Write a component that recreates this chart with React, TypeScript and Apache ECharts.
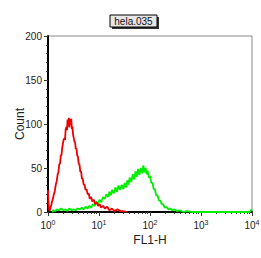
import React, { useEffect, useRef } from "react";
import * as echarts from "echarts";

const title = "hela.035";
const xAxisName = "FL1-H";
const yAxisName = "Count";
const yTicks = [0, 50, 100, 150, 200];
const xDecades = [1, 10, 100, 1000, 10000];
const xMinorTicks = [
  2, 3, 4, 5, 6, 7, 8, 9,
  20, 30, 40, 50, 60, 70, 80, 90,
  200, 300, 400, 500, 600, 700, 800, 900,
  2000, 3000, 4000, 5000, 6000, 7000, 8000, 9000,
];

// Red (control) histogram: [FL1-H, count]
const redSeries: [number, number][] = [
  [1, 25], [1.02, 12], [1.05, 3], [1.08, 1], [1.12, 5], [1.16, 8], [1.2, 12], [1.25, 15],
  [1.3, 20], [1.36, 24], [1.42, 31], [1.48, 35], [1.55, 43], [1.6, 45], [1.66, 54], [1.72, 55],
  [1.78, 64], [1.84, 65], [1.9, 73], [1.96, 73], [2.02, 82], [2.1, 84], [2.16, 82], [2.22, 94],
  [2.3, 97], [2.36, 93], [2.42, 105], [2.5, 98], [2.56, 107], [2.62, 96], [2.7, 106], [2.78, 99],
  [2.86, 106], [2.94, 94], [3.02, 97], [3.1, 88], [3.2, 88], [3.3, 80], [3.4, 79], [3.5, 72],
  [3.62, 72], [3.74, 64], [3.86, 63], [4.0, 55], [4.14, 54], [4.3, 46], [4.46, 46], [4.62, 38],
  [4.8, 38], [5.0, 31], [5.2, 31], [5.45, 25], [5.7, 26], [6.0, 20], [6.3, 21], [6.6, 15],
  [7.0, 17], [7.4, 12], [7.9, 14], [8.4, 9], [9.0, 11], [9.6, 7], [10.3, 9], [11, 5],
  [12, 7], [13, 4], [14.5, 6], [16, 2], [18, 4], [20, 1], [23, 3], [26, 1], [30, 1], [35, 0],
];

// Green (stained) histogram: [FL1-H, count]
const greenSeries: [number, number][] = [
  [1.2, 0], [1.3, 2], [1.4, 1], [1.5, 3], [1.65, 2], [1.8, 4], [2, 2], [2.2, 3],
  [2.4, 1], [2.6, 4], [2.9, 2], [3.2, 3], [3.5, 2], [3.8, 4], [4.2, 3], [4.6, 5],
  [5, 3], [5.5, 6], [6, 4], [6.5, 7], [7, 5], [7.6, 9], [8.2, 7], [8.8, 12],
  [9.5, 9], [10.2, 14], [11, 11], [12, 17], [13, 15], [14, 20], [15, 17], [16, 23],
  [17, 19], [18, 25], [19.5, 21], [21, 28], [22.5, 23], [24, 30], [26, 25], [28, 31],
  [30, 26], [32, 33], [34, 28], [36, 36], [38, 31], [40, 39], [43, 34], [46, 43],
  [49, 37], [52, 46], [55, 40], [58, 49], [62, 42], [66, 50], [70, 44], [74, 53],
  [78, 45], [82, 50], [86, 43], [90, 47], [95, 39], [100, 41], [106, 33], [112, 33],
  [118, 26], [125, 26], [132, 19], [140, 19], [150, 13], [160, 13], [170, 9], [180, 9],
  [195, 5], [210, 6], [230, 3], [250, 4], [275, 2], [300, 3], [340, 1], [380, 2],
  [450, 0], [520, 1], [700, 0], [1000, 0], [2000, 0], [5000, 0], [9000, 0], [9500, 2], [10000, 3],
];

const supDigits: Record<string, number> = { "1": 0, "10": 1, "100": 2, "1000": 3, "10000": 4 };

export default function App() {
  const ref = useRef<HTMLDivElement>(null);
  useEffect(() => {
    if (!ref.current) return;
    const chart = echarts.init(ref.current, null, { renderer: "svg" });
    const font = "Liberation Sans, Arial, sans-serif";
    chart.setOption({
      animation: false,
      backgroundColor: "#ffffff",
      grid: {
        left: 48,
        right: 9,
        top: 36,
        bottom: 46,
        containLabel: false,
        outerBoundsMode: "none",
        show: true,
        borderColor: "#8a8a8a",
        borderWidth: 1,
        backgroundColor: "transparent",
      },
      graphic: [
        { type: "rect", shape: { x: 112, y: 17, width: 47, height: 12 }, style: { fill: "#333" }, z: 10 },
        { type: "rect", shape: { x: 110, y: 15, width: 47, height: 12 }, style: { fill: "#e6e6e6", stroke: "#000", lineWidth: 1 }, z: 11 },
        {
          type: "text",
          x: 133.5,
          y: 21,
          style: { text: title, fontSize: 10, fontFamily: font, fill: "#111", align: "center", verticalAlign: "middle" },
          z: 12,
        },
      ],
      xAxis: [
        {
          type: "log",
          logBase: 10,
          min: xDecades[0],
          max: xDecades[xDecades.length - 1],
          name: xAxisName,
          nameLocation: "middle",
          nameGap: 22,
          nameMoveOverlap: false,
          nameTextStyle: { fontSize: 12, fontFamily: font, color: "#222" },
          axisLine: { show: true, onZero: false, lineStyle: { color: "#000", width: 2 } },
          axisTick: { show: true, length: 4, lineStyle: { color: "#333" } },
          splitLine: { show: false },
          axisLabel: {
            margin: 7,
            formatter: (v: number) => `{b|10}{s|${supDigits[String(Math.round(v))] ?? ""}}`,
            rich: {
              b: { fontSize: 10, fontFamily: font, color: "#222" },
              s: { fontSize: 7, fontFamily: font, color: "#222", verticalAlign: "top", padding: [0, 0, 6, 0] },
            },
          },
        },
        {
          type: "log",
          logBase: 10,
          min: xDecades[0],
          max: xDecades[xDecades.length - 1],
          position: "bottom",
          axisLine: { show: false },
          axisLabel: { show: false },
          splitLine: { show: false },
          axisTick: { show: true, length: 2, customValues: xMinorTicks, lineStyle: { color: "#333" } },
        },
      ],
      yAxis: {
        type: "value",
        min: yTicks[0],
        max: yTicks[yTicks.length - 1],
        interval: 50,
        name: yAxisName,
        nameLocation: "middle",
        nameGap: 22,
        nameMoveOverlap: false,
        nameTextStyle: { fontSize: 12, fontFamily: font, color: "#222" },
        axisLine: { show: true, lineStyle: { color: "#000", width: 2 } },
        axisTick: { show: true, length: 4, lineStyle: { color: "#333" } },
        minorTick: { show: true, splitNumber: 5, length: 2, lineStyle: { color: "#333" } },
        splitLine: { show: false },
        axisLabel: { fontSize: 10, fontFamily: font, color: "#222", margin: 6 },
      },
      series: [
        {
          type: "line",
          data: greenSeries,
          showSymbol: false,
          lineStyle: { color: "#00ee00", width: 1.8 },
          z: 2,
        },
        {
          type: "line",
          data: redSeries,
          showSymbol: false,
          lineStyle: { color: "#ee0000", width: 1.8 },
          z: 3,
        },
      ],
    });
    return () => chart.dispose();
  }, []);
  return <div ref={ref} style={{ width: 261, height: 258, position: "absolute", left: 0, top: 0 }} />;
}
